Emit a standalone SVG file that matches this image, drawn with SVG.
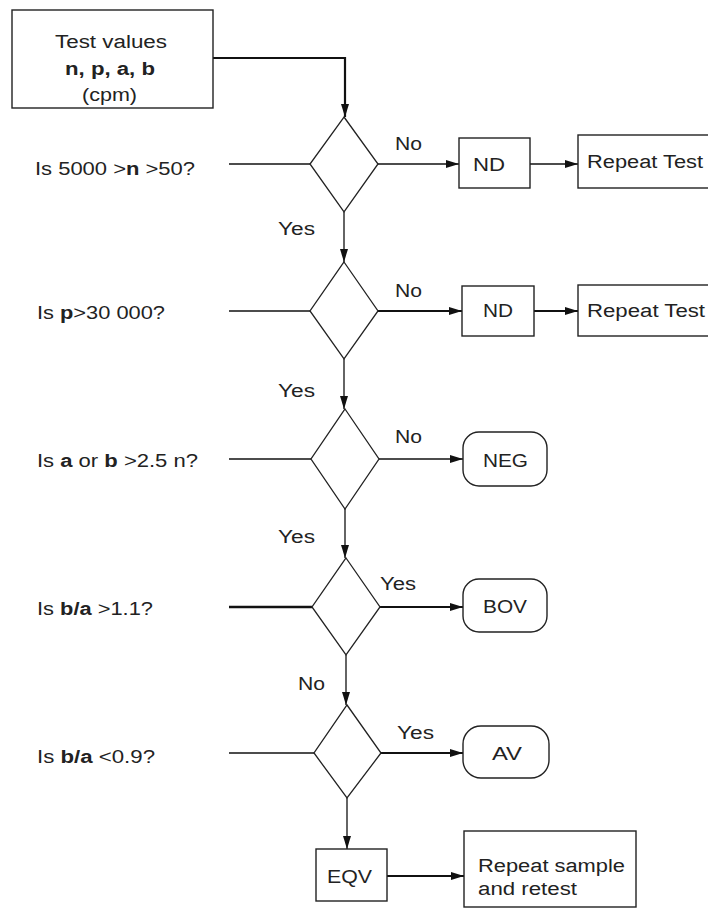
<svg xmlns="http://www.w3.org/2000/svg" width="708" height="910" viewBox="0 0 708 910">
<defs>
<marker id="ah" markerUnits="userSpaceOnUse" markerWidth="14" markerHeight="10" refX="13" refY="4" orient="auto">
<path d="M0,0 L13,4 L0,8 z" fill="#111"/>
</marker>
<style>
text{font-family:"Liberation Sans",Arial,sans-serif;font-size:18px;fill:#222}
.b{font-weight:bold}
.box{fill:#fff;stroke:#222;stroke-width:1.4}
.dia{fill:#fff;stroke:#222;stroke-width:1.3}
.ln{fill:none;stroke:#111;stroke-width:1.3}
.th{stroke-width:2.2}
.arr{marker-end:url(#ah)}
</style>
</defs>
<rect width="708" height="910" fill="#fff"/>

<g id="connectors">
<path class="ln th arr" d="M213,58 H345 V117"/>
<path class="ln" d="M229,164 H310"/>
<path class="ln arr" d="M378,164 H459"/>
<path class="ln arr" d="M530,164 H578"/>
<path class="ln arr" d="M344,212 V262"/>
<path class="ln" d="M229,311 H310"/>
<path class="ln th arr" d="M378,311 H462"/>
<path class="ln th arr" d="M534,311 H578"/>
<path class="ln arr" d="M344,359 V409"/>
<path class="ln" d="M229,459 H311"/>
<path class="ln arr" d="M379,459 H463"/>
<path class="ln arr" d="M345,509 V558"/>
<path class="ln" style="stroke-width:2.6" d="M229,607 H312"/>
<path class="ln th arr" d="M380,607 H463"/>
<path class="ln arr" d="M346,655 V705"/>
<path class="ln" d="M229,753 H314"/>
<path class="ln th arr" d="M381,753 H463"/>
<path class="ln arr" d="M347,798 V849"/>
<path class="ln th arr" d="M387,876 H464"/>
</g>

<g id="labels">
<text x="395" y="150" textLength="27" lengthAdjust="spacingAndGlyphs">No</text>
<text x="278" y="235" textLength="37" lengthAdjust="spacingAndGlyphs">Yes</text>
<text x="395" y="297" textLength="27" lengthAdjust="spacingAndGlyphs">No</text>
<text x="278" y="397" textLength="37" lengthAdjust="spacingAndGlyphs">Yes</text>
<text x="395" y="443" textLength="27" lengthAdjust="spacingAndGlyphs">No</text>
<text x="278" y="543" textLength="37" lengthAdjust="spacingAndGlyphs">Yes</text>
<text x="380" y="590" textLength="36" lengthAdjust="spacingAndGlyphs">Yes</text>
<text x="298" y="690" textLength="27" lengthAdjust="spacingAndGlyphs">No</text>
<text x="397" y="739" textLength="37" lengthAdjust="spacingAndGlyphs">Yes</text>
</g>

<g id="start">
<rect class="box" x="12" y="10" width="201" height="98"/>
<text x="55" y="48" textLength="112" lengthAdjust="spacingAndGlyphs">Test values</text>
<text x="65" y="75" class="b" textLength="90" lengthAdjust="spacingAndGlyphs">n, p, a, b</text>
<text x="82" y="101" textLength="55" lengthAdjust="spacingAndGlyphs">(cpm)</text>
</g>

<g id="q1">
<text x="35" y="175" textLength="160" lengthAdjust="spacingAndGlyphs">Is 5000 &gt;<tspan class="b">n</tspan> &gt;50?</text>
<polygon class="dia" points="344,117 378,164 344,212 310,164"/>
</g>
<g id="nd1">
<rect class="box" x="459" y="138" width="71" height="50"/>
<text x="473" y="171" textLength="32" lengthAdjust="spacingAndGlyphs">ND</text>
</g>
<g id="rep1">
<rect class="box" x="578" y="135" width="140" height="53"/>
<text x="587" y="168" textLength="116" lengthAdjust="spacingAndGlyphs">Repeat Test</text>
</g>

<g id="q2">
<text x="37" y="319" textLength="128" lengthAdjust="spacingAndGlyphs">Is <tspan class="b">p</tspan>&gt;30 000?</text>
<polygon class="dia" points="344,262 378,311 344,359 310,311"/>
</g>
<g id="nd2">
<rect class="box" x="462" y="286" width="72" height="50"/>
<text x="483" y="317" textLength="30" lengthAdjust="spacingAndGlyphs">ND</text>
</g>
<g id="rep2">
<rect class="box" x="578" y="285" width="140" height="51"/>
<text x="587" y="317" textLength="118" lengthAdjust="spacingAndGlyphs">Repeat Test</text>
</g>

<g id="q3">
<text x="37" y="467" textLength="161" lengthAdjust="spacingAndGlyphs">Is <tspan class="b">a</tspan> or <tspan class="b">b</tspan> &gt;2.5 n?</text>
<polygon class="dia" points="345,409 379,459 345,509 311,459"/>
</g>
<g id="neg">
<rect class="box" x="463" y="432" width="84" height="54" rx="16"/>
<text x="483" y="467" textLength="45" lengthAdjust="spacingAndGlyphs">NEG</text>
</g>

<g id="q4">
<text x="37" y="615" textLength="116" lengthAdjust="spacingAndGlyphs">Is <tspan class="b">b/a</tspan> &gt;1.1?</text>
<polygon class="dia" points="346,558 380,607 346,655 312,607"/>
</g>
<g id="bov">
<rect class="box" x="463" y="579" width="84" height="53" rx="16"/>
<text x="483" y="613" textLength="44" lengthAdjust="spacingAndGlyphs">BOV</text>
</g>

<g id="q5">
<text x="37" y="763" textLength="118" lengthAdjust="spacingAndGlyphs">Is <tspan class="b">b/a</tspan> &lt;0.9?</text>
<polygon class="dia" points="347,705 381,753 347,798 314,753"/>
</g>
<g id="av">
<rect class="box" x="463" y="726" width="86" height="52" rx="18"/>
<text x="492" y="760" textLength="30" lengthAdjust="spacingAndGlyphs">AV</text>
</g>

<g id="eqv">
<rect class="box" x="316" y="849" width="71" height="52"/>
<text x="327" y="883" textLength="45" lengthAdjust="spacingAndGlyphs">EQV</text>
</g>
<g id="rep3">
<rect class="box" x="464" y="831" width="172" height="76"/>
<text x="478" y="872" textLength="147" lengthAdjust="spacingAndGlyphs">Repeat sample</text>
<text x="478" y="895" textLength="99" lengthAdjust="spacingAndGlyphs">and retest</text>
</g>
</svg>
